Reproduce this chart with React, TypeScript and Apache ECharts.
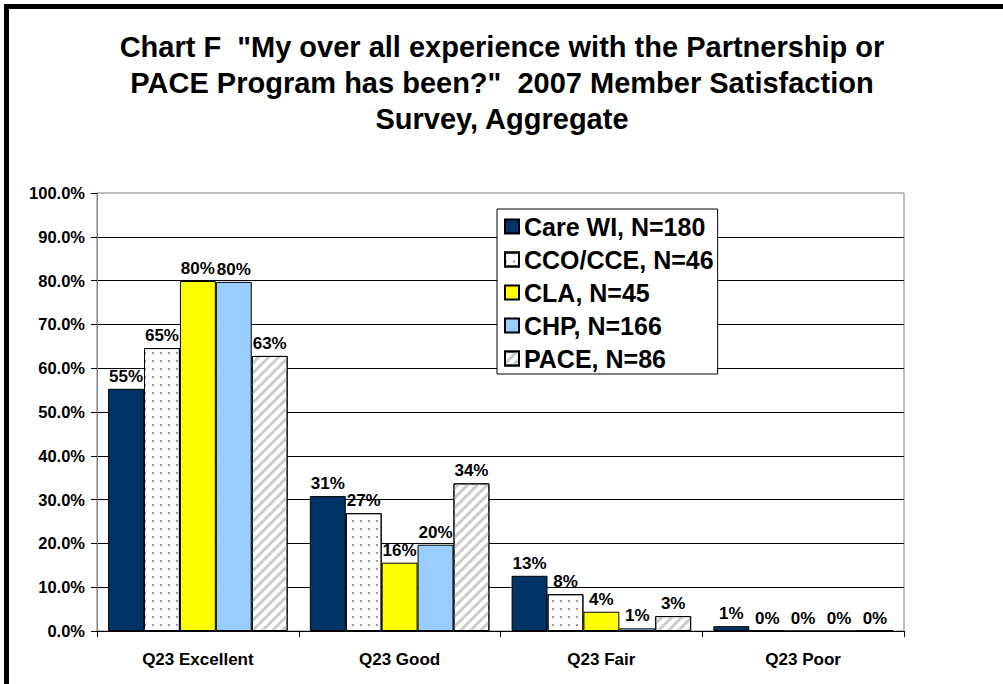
import React, { useEffect, useRef } from "react";
import * as echarts from "echarts";

const categories = ["Q23 Excellent", "Q23 Good", "Q23 Fair", "Q23 Poor"];
const seriesNames = [
  "Care WI, N=180",
  "CCO/CCE, N=46",
  "CLA, N=45",
  "CHP, N=166",
  "PACE, N=86",
];
const careWI = [55.3, 30.8, 12.6, 1.1];
const ccoCce = [64.6, 26.9, 8.4, 0];
const cla = [79.9, 15.6, 4.4, 0];
const chp = [79.7, 19.7, 0.6, 0];
const pace = [62.8, 33.7, 3.4, 0];
const yTicks = { min: 0, max: 100, interval: 10 };
const titleText =
  'Chart F  "My over all experience with the Partnership or\nPACE Program has been?"  2007 Member Satisfaction\nSurvey, Aggregate';

const FONT = "'Liberation Sans', Arial, sans-serif";

export default function App() {
  const ref = useRef<HTMLDivElement>(null);
  useEffect(() => {
    if (!ref.current) return;
    const chart = echarts.init(ref.current, null, { renderer: "svg" });
    const label = {
      show: true,
      position: "top",
      distance: 4,
      color: "#000",
      fontFamily: FONT,
      fontWeight: "bold",
      fontSize: 17,
      formatter: (p: any) => Math.round(p.value) + "%",
    };
    const border = { borderColor: "#000", borderWidth: 1 };
    const mk = (name: string, data: number[], itemStyle: any) => ({
      name,
      type: "bar",
      data,
      barGap: "0%",
      barCategoryGap: "11%",
      label,
      itemStyle: { ...border, ...itemStyle },
    });
    chart.setOption({
      animation: false,
      backgroundColor: "#fff",
      textStyle: { fontFamily: FONT },
      graphic: [
        { type: "rect", shape: { x: 4, y: 4, width: 5, height: 680 }, style: { fill: "#000" } },
        { type: "rect", shape: { x: 4, y: 4, width: 999, height: 5 }, style: { fill: "#000" } },
        {
          type: "text",
          x: 502,
          y: 29,
          style: {
            text: titleText,
            align: "center",
            verticalAlign: "top",
            fontFamily: FONT,
            fontWeight: "bold",
            fontSize: 29,
            lineHeight: 36,
            fill: "#000",
          },
        },
      ],
      legend: {
        orient: "vertical",
        left: 497,
        top: 209,
        backgroundColor: "#fff",
        borderColor: "#000",
        borderWidth: 1,
        padding: [5, 4, 3, 7],
        icon: "rect",
        itemWidth: 14,
        itemHeight: 14,
        itemGap: 8,
        textStyle: {
          fontFamily: FONT,
          fontWeight: "bold",
          fontSize: 25,
          color: "#000",
        },
        data: seriesNames,
      },
      grid: {
        left: 97,
        right: 99,
        top: 193,
        bottom: 53,
        show: true,
        borderColor: "#808080",
        borderWidth: 1,
        backgroundColor: "transparent",
      },
      xAxis: {
        type: "category",
        data: categories,
        axisLine: { lineStyle: { color: "#000" } },
        axisTick: { show: true, length: 6, lineStyle: { color: "#000" } },
        axisLabel: {
          margin: 20,
          color: "#000",
          fontFamily: FONT,
          fontWeight: "bold",
          fontSize: 17,
        },
      },
      yAxis: {
        type: "value",
        min: yTicks.min,
        max: yTicks.max,
        interval: yTicks.interval,
        axisLine: { show: true, lineStyle: { color: "#808080" } },
        axisTick: { show: true, length: 6, lineStyle: { color: "#000" } },
        axisLabel: {
          margin: 12,
          color: "#000",
          fontFamily: FONT,
          fontWeight: "bold",
          fontSize: 16.5,
          formatter: (v: number) => v.toFixed(1) + "%",
        },
        splitLine: { show: true, showMaxLine: false, lineStyle: { color: "#000", width: 1 } },
      },
      series: [
        mk(seriesNames[0], careWI, { color: "#003366" }),
        mk(seriesNames[1], ccoCce, {
          color: "#ffffff",
          decal: {
            symbol: "circle",
            symbolSize: 1,
            dashArrayX: [1.4, 6],
            dashArrayY: [1.4, 5.2],
            color: "#8a8a8a",
          },
        }),
        mk(seriesNames[2], cla, { color: "#ffff00" }),
        mk(seriesNames[3], chp, { color: "#99ccff" }),
        mk(seriesNames[4], pace, {
          color: "#ffffff",
          decal: {
            symbol: "rect",
            symbolSize: 1,
            dashArrayX: [1, 0],
            dashArrayY: [3, 4],
            rotation: -Math.PI / 4,
            color: "#cccccc",
          },
        }),
      ],
    });
    return () => chart.dispose();
  }, []);
  return (
    <div
      ref={ref}
      style={{ position: "absolute", left: 0, top: 0, width: 1003, height: 684 }}
    />
  );
}
